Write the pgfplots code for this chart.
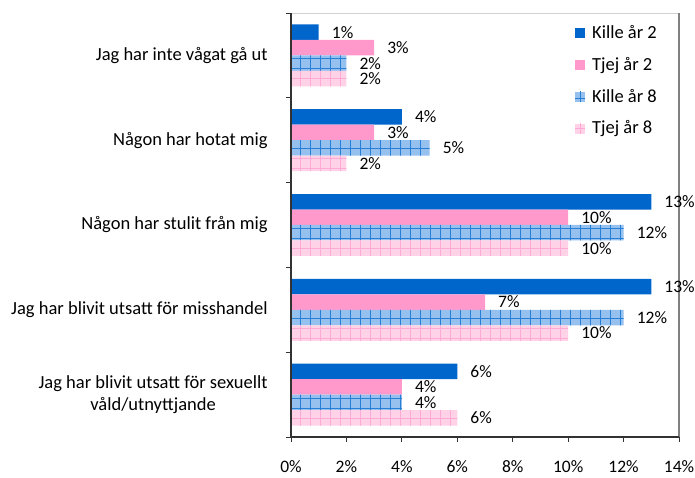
\documentclass[border=0pt]{standalone}
\usepackage{fontspec}
\setmainfont{Carlito}
\usepackage{pgfplots}
\pgfplotsset{compat=1.18}
\usepackage{pgfplotstable}
\usetikzlibrary{patterns.meta}

\definecolor{kille2}{RGB}{0,102,204}
\definecolor{tjej2}{RGB}{255,153,204}
\definecolor{kille8}{RGB}{150,192,238}
\definecolor{kille8line}{RGB}{40,128,214}
\definecolor{tjej8}{RGB}{255,210,232}
\definecolor{tjej8line}{RGB}{255,170,212}
\definecolor{axisdark}{RGB}{50,50,50}

\pgfplotstableread{
cat val
1 1
2 4
3 13
4 13
5 6
}\killeTwo
\pgfplotstableread{
cat val
1 3
2 3
3 10
4 7
5 4
}\tjejTwo
\pgfplotstableread{
cat val
1 2
2 5
3 12
4 12
5 4
}\killeEight
\pgfplotstableread{
cat val
1 2
2 2
3 10
4 10
5 6
}\tjejEight

\begin{document}
\fontsize{18.5}{22}\selectfont
\begin{tikzpicture}
\begin{axis}[
  scale only axis, width=388pt, height=424pt,
  xbar, bar width=15.5pt, bar shift=0pt,
  xmin=0, xmax=14, ymin=-0.5, ymax=4.5, y dir=reverse,
  clip=false,
  axis line style={draw=none},
  tick pos=left, tick align=outside,
  major tick length=5pt,
  tick style={axisdark, line width=0.8pt},
  xtick={0,2,...,14},
  xticklabel={\pgfmathprintnumber{\tick}\%},
  xticklabel style={yshift=-12pt, font=\fontsize{17.5}{21}\selectfont},
  ytick={-0.5,0.5,...,4.5},
  yticklabels={},
  extra y ticks={0,1,2,3,4},
  extra y tick labels={Jag har inte vågat gå ut,Någon har hotat mig,Någon har stulit från mig,Jag har blivit utsatt för misshandel,{Jag har blivit utsatt för sexuellt\\våld/utnyttjande}},
  extra y tick style={major tick length=0pt, yticklabel style={align=center, xshift=-17pt}},
  /pgf/number format/assume math mode=true,
  nodes near coords={\pgfmathprintnumber{\pgfplotspointmeta}\%},
  every node near coord/.append style={anchor=west, inner sep=0pt, xshift=13pt, text=black, font=\fontsize{17.5}{21}\selectfont},
  legend style={at={(0.714,0.9976)}, anchor=north west, draw=none, fill=white,
    row sep=12pt, inner xsep=7pt, inner ysep=9pt, cells={anchor=west},
    nodes={inner xsep=7pt}},
  legend image code/.code={\draw[#1,draw=none] (0pt,-5pt) rectangle (10pt,5pt);},
]
\addplot[fill=kille2, draw=none] table[x=val, y expr=\coordindex-0.274] {\killeTwo};
\addlegendentry{Kille år 2}
\addplot[fill=tjej2, draw=none] table[x=val, y expr=\coordindex-0.0913] {\tjejTwo};
\addlegendentry{Tjej år 2}
\addplot[fill=kille8, draw=none, postaction={pattern={Hatch[angle=0,distance=10pt,line width=0.5pt]}, pattern color=kille8line}] table[x=val, y expr=\coordindex+0.0913] {\killeEight};
\addlegendentry{Kille år 8}
\addplot[fill=tjej8, draw=none, postaction={pattern={Hatch[angle=0,distance=10pt,line width=0.5pt]}, pattern color=tjej8line}] table[x=val, y expr=\coordindex+0.274] {\tjejEight};
\addlegendentry{Tjej år 8}
\draw[black!18, line width=0.6pt] (axis cs:0,-0.5) -- (axis cs:14,-0.5);
\draw[black!50, line width=1.5pt] (axis cs:14,-0.5) -- (axis cs:14,4.5);
\draw[axisdark, line width=1.2pt] (axis cs:0,-0.5) -- (axis cs:0,4.5) -- (axis cs:14,4.5);
\end{axis}
\pgfresetboundingbox
\path[use as bounding box] ([shift={(-291pt,-41pt)}]current axis.south west) rectangle ++(695pt,478pt);
\end{tikzpicture}
\end{document}
